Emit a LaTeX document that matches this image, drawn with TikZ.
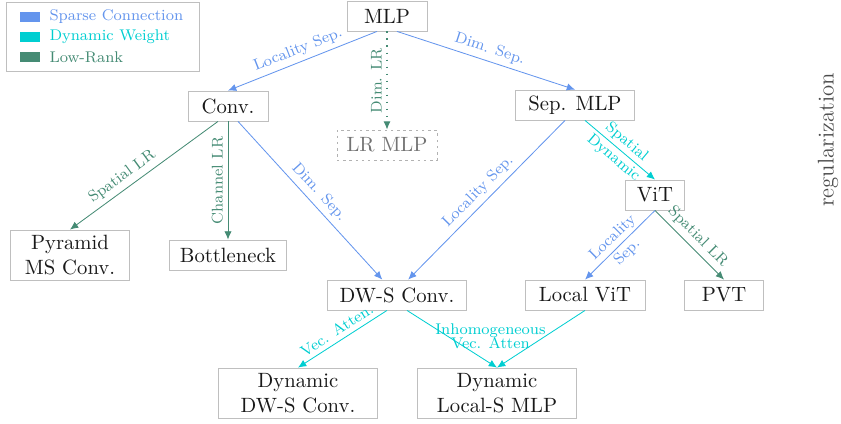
\documentclass[tikz,border=0pt]{standalone}
\usepackage{tikz}
\usetikzlibrary{arrows.meta}

\definecolor{sparse}{RGB}{100,149,237}
\definecolor{dynamic}{RGB}{0,206,209}
\definecolor{lowrank}{RGB}{69,139,116}

\tikzset{
  blk/.style={draw=black!25, minimum height=0.51cm, inner sep=2pt, text=black!90},
  lbl/.style={font=\fontsize{7.5}{7}\selectfont, inner sep=2.2pt},
  arr/.style={-{Latex[length=4pt,width=3.5pt]}},
}

\begin{document}
\begin{tikzpicture}[x=0.017cm,y=-0.017cm]
      \useasboundingbox (0,0) rectangle (841,423);
      % legend
      \node[draw=black!25, minimum width=3.28cm, minimum height=1.16cm] (legend) at (102.5,37) {};
      \foreach \c/\t [count=\i] in {sparse/Sparse Connection, dynamic/Dynamic Weight, lowrank/Low-Rank} {
      \node[fill=\c, minimum width=0.34cm, minimum height=0.17cm, inner sep=0pt] (key\i) at (30,-3+20*\i) {};
      \node[lbl, inner sep=1.5pt, text=\c, anchor=west] (name\i) at (46,-3+20*\i) {\t};
      }
      % models
      \node[blk, minimum width=1.36cm] (mlp) at (387,16) {MLP};
      \node[blk, minimum width=1.36cm] (conv) at (228,106) {Conv.};
      \node[blk, minimum width=1.7cm, draw=black!30, dash pattern=on 1.2pt off 1.8pt, text=black!55] (lrmlp) at (387,145) {LR MLP};
      \node[blk, minimum width=2.02cm] (sepmlp) at (575,105) {Sep. MLP};
      \node[blk, minimum width=1.0cm] (vit) at (655,195) {ViT};
      \node[blk, minimum width=2.02cm, minimum height=0.85cm, align=center] (pyramid) at (70,255) {Pyramid\\MS Conv.};
      \node[blk, minimum width=2.0cm] (bottleneck) at (228,255) {Bottleneck};
      \node[blk, minimum width=2.36cm] (dws) at (397,295) {DW-S Conv.};
      \node[blk, minimum width=2.04cm] (localvit) at (585,295) {Local ViT};
      \node[blk, minimum width=1.34cm] (pvt) at (724,295) {PVT};
      \node[blk, minimum width=2.7cm, minimum height=0.85cm, align=center] (dyndws) at (298,393) {Dynamic\\DW-S Conv.};
      \node[blk, minimum width=2.7cm, minimum height=0.85cm, align=center] (dynlocal) at (497,393) {Dynamic\\Local-S MLP};
      \node[rotate=90, text=black!70, font=\fontsize{11}{13}\selectfont] (reg) at (828,140) {regularization};
      % connections
      \draw[arr, sparse] ([xshift=-0.17cm]mlp.south) -- node[lbl, sloped, above] {Locality Sep.} (conv.north);
      \draw[arr, sparse] ([xshift=0.17cm]mlp.south) -- node[lbl, sloped, above] {Dim. Sep.} (sepmlp.north);
      \draw[arr, lowrank, dash pattern=on 0.8pt off 2.6pt, line width=0.6pt] (mlp.south) -- node[lbl, rotate=90, anchor=south] {Dim. LR} (lrmlp.north);
      \draw[arr, lowrank] ([xshift=-0.17cm]conv.south) -- node[lbl, sloped, above, pos=0.6] {Spatial LR} (pyramid.north);
      \draw[arr, lowrank] (conv.south) -- node[lbl, rotate=90, anchor=south] {Channel LR} (bottleneck.north);
      \draw[arr, sparse] ([xshift=0.17cm]conv.south) -- node[lbl, sloped, above] {Dim. Sep.} ([xshift=-0.25cm]dws.north);
      \draw[arr, sparse] ([xshift=-0.17cm]sepmlp.south) -- node[lbl, sloped, above] {Locality Sep.} ([xshift=0.19cm]dws.north);
      \draw[arr, dynamic] ([xshift=0.17cm]sepmlp.south) -- node[lbl, sloped, align=center] {Spatial\\[3pt]Dynamic} (vit.north);
      \draw[arr, sparse] (vit.south) -- node[lbl, sloped, align=center] {Locality\\[3pt]Sep.} (localvit.north);
      \draw[arr, lowrank] (vit.south) -- node[lbl, sloped, above] {Spatial LR} (pvt.north);
      \draw[arr, dynamic] ([xshift=-0.17cm]dws.south) -- node[lbl, sloped, above] {Vec. Atten.} (dyndws.north);
      \draw[arr, dynamic] ([xshift=0.17cm]dws.south) -- node[lbl, pos=0.45, xshift=0.73cm, align=center] {Inhomogeneous\\Vec. Atten} (dynlocal.north);
      \draw[arr, dynamic] (localvit.south) -- (dynlocal.north);
    \end{tikzpicture}
\end{document}
